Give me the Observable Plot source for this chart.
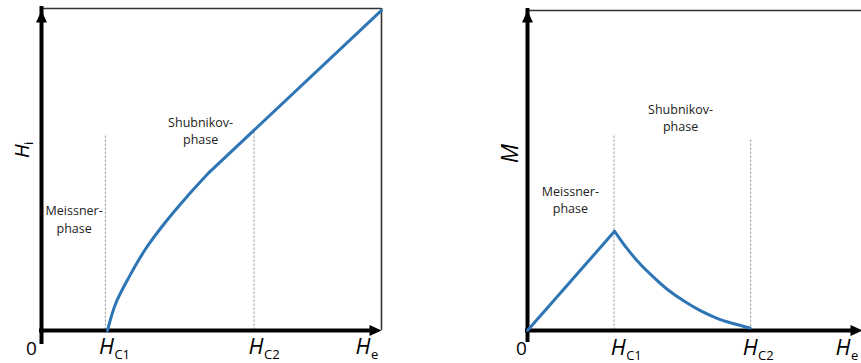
<!DOCTYPE html>
<html>
<head>
<meta charset="utf-8">
<script src="https://cdn.jsdelivr.net/npm/d3@7"></script>
<script src="https://cdn.jsdelivr.net/npm/@observablehq/plot@0.6"></script>
<style>
  html, body { margin: 0; padding: 0; background: #fff; overflow: hidden; }
  #figure { position: relative; width: 861px; height: 363px; overflow: hidden; }
  #figure > div { position: absolute; top: 0; }
  #internal { left: 0; }
  #magnet { left: 460px; }
  svg { max-width: none !important; }
</style>
</head>
<body>
<div id="figure"><div id="internal"></div><div id="magnet"></div></div>
<script>
// Internal field H_i against the applied field H_e in a type-II superconductor:
// curved rise after H_C1, then a straight branch up to the top corner
const risingHe = [1.94, 2.18, 2.57, 3.06, 3.65, 4.24, 4.94];
const risingHi = [0, 0.83, 1.65, 2.53, 3.37, 4.11, 4.92];
const straightHe = [4.94, 10];
const straightHi = [4.92, 9.94];

// Magnetisation M against H_e: linear rise in the Meissner phase, decay in the Shubnikov phase
const meissnerHe = [0, 2.60];
const meissnerM = [0, 3.10];
const shubnikovHe = [2.60, 2.98, 3.37, 3.77, 4.17, 4.67, 5.16, 5.66, 6.16, 6.64];
const shubnikovM = [3.10, 2.55, 2.07, 1.66, 1.29, 0.92, 0.62, 0.38, 0.21, 0.08];

// Lower and upper critical fields (H_C1, H_C2) and the height of their guide lines
const internalCritical = [1.88, 6.25];
const internalCriticalTop = [6.06, 6.18];
const magnetCritical = [2.58, 6.66];
const magnetCriticalTop = [6.09, 6.0];

// Field axis labels: main symbol and subscript
const tickMain = ["0", "H", "H", "H"];
const tickSub = ["", "C1", "C2", "e"];
const phaseNames = ["Meissner-\nphase", "Shubnikov-\nphase"];

const blue = "#2E75B6";
const sans = "'Open Sans', 'DejaVu Sans', sans-serif";

// filled arrowhead, tip at the origin, pointing up
const arrowHead = {
  draw(context) {
    context.moveTo(0, 0);
    context.lineTo(5.5, 12);
    context.lineTo(-5.5, 12);
    context.closePath();
  }
};

function axesMarks(arrowDy) {
  return [
    // frame (top and right)
    Plot.ruleY([10], {x1: 0, x2: 10, stroke: "#333", strokeWidth: 1.4}),
    Plot.ruleX([10], {y1: 0, y2: 10, stroke: "#333", strokeWidth: 1.6}),
    // thick axes with arrowheads
    Plot.ruleX([0], {y1: 0, y2: 10, insetTop: 10 + arrowDy, stroke: "black", strokeWidth: 4, strokeLinecap: "square"}),
    Plot.ruleY([0], {x1: 0, x2: 10, insetRight: 10, stroke: "black", strokeWidth: 4, strokeLinecap: "square"}),
    Plot.dot([0], {x: 0, y: 10, dy: arrowDy, symbol: arrowHead, r: 5, fill: "black", stroke: "none"}),
    Plot.dot([0], {x: 10, y: 0, rotate: 90, symbol: arrowHead, r: 5, fill: "black", stroke: "none"})
  ];
}

// one field label (symbol plus subscript) under the x axis
function fieldLabel(i, x, dx, dyMain, dySub) {
  if (!tickSub[i]) {
    return [Plot.text([tickMain[i]], {x, y: 0, text: d => d, dx, dy: dyMain, textAnchor: "middle", lineAnchor: "bottom",
      fontFamily: sans, fontSize: 19, fill: "black"})];
  }
  return [
    Plot.text([tickMain[i]], {x, y: 0, text: d => d, dx, dy: dyMain, textAnchor: "end", lineAnchor: "bottom",
      fontFamily: sans, fontSize: 22, fontStyle: "italic", fill: "black"}),
    Plot.text([tickSub[i]], {x, y: 0, text: d => d, dx: dx + 0.5, dy: dySub, textAnchor: "start", lineAnchor: "bottom",
      fontFamily: sans, fontSize: 13, fill: "black"})
  ];
}

function phaseLabel(name, x, y) {
  return Plot.text([name], {x, y, text: d => d, textAnchor: "middle", lineAnchor: "bottom", lineHeight: 1.4,
    fontFamily: sans, fontSize: 12.5, fill: "#222"});
}

const common = {
  height: 363,
  x: {domain: [0, 10], axis: null},
  y: {domain: [0, 10], axis: null},
  style: {background: "transparent", overflow: "visible"}
};

// left panel: H_i(H_e)
const internalPlot = Plot.plot({
  ...common,
  width: 400,
  marginLeft: 41, marginRight: 19, marginTop: 8, marginBottom: 33,
  marks: [
    Plot.ruleX(internalCritical, {y1: 0, y2: internalCriticalTop, stroke: "#8a8a8a", strokeWidth: 0.8, strokeDasharray: "2.5,1.5"}),
    ...axesMarks(2),
    Plot.line(d3.zip(risingHe, risingHi), {curve: "catmull-rom", stroke: blue, strokeWidth: 3}),
    Plot.line(d3.zip(straightHe, straightHi), {stroke: blue, strokeWidth: 3}),
    phaseLabel(phaseNames[0], 0.96, 3.04),
    phaseLabel(phaseNames[1], 4.68, 5.78),
    ...fieldLabel(0, 0, -10, 24, 24),
    ...fieldLabel(1, internalCritical[0], 8.5, 23, 28),
    ...fieldLabel(2, internalCritical[1], 9.5, 23, 28),
    ...fieldLabel(3, 10, -11, 23, 28),
    // y-axis title H_i
    Plot.text(["H"], {x: 0, y: 5.78, text: d => d, rotate: -90, dx: -13, textAnchor: "end", lineAnchor: "bottom",
      fontFamily: sans, fontSize: 20, fontStyle: "italic", fill: "black"}),
    Plot.text(["i"], {x: 0, y: 5.78, text: d => d, rotate: -90, dx: -9, dy: 0.5, textAnchor: "start", lineAnchor: "bottom",
      fontFamily: sans, fontSize: 13, fill: "black"})
  ]
});

// right panel: M(H_e)
const magnetPlot = Plot.plot({
  ...common,
  width: 410,
  marginLeft: 67, marginRight: 8, marginTop: 10, marginBottom: 33,
  marks: [
    Plot.ruleX(magnetCritical, {y1: 0, y2: magnetCriticalTop, stroke: "#8a8a8a", strokeWidth: 0.8, strokeDasharray: "2.5,1.5"}),
    ...axesMarks(0),
    Plot.line(d3.zip(meissnerHe, meissnerM), {stroke: blue, strokeWidth: 3}),
    Plot.line(d3.zip(shubnikovHe, shubnikovM), {curve: "catmull-rom", stroke: blue, strokeWidth: 3}),
    phaseLabel(phaseNames[0], 1.28, 3.66),
    phaseLabel(phaseNames[1], 4.57, 6.23),
    ...fieldLabel(0, 0, -6, 24, 24),
    ...fieldLabel(1, magnetCritical[0], 11.7, 24, 29),
    ...fieldLabel(2, magnetCritical[1], 7, 24, 29),
    ...fieldLabel(3, 10, -12, 24, 29),
    // y-axis title M
    Plot.text(["M"], {x: 0, y: 5.53, text: d => d, rotate: -90, dx: -10, textAnchor: "middle", lineAnchor: "bottom",
      fontFamily: sans, fontSize: 23, fontStyle: "italic", fill: "black"})
  ]
});

document.getElementById("internal").append(internalPlot);
document.getElementById("magnet").append(magnetPlot);
</script>
</body>
</html>
